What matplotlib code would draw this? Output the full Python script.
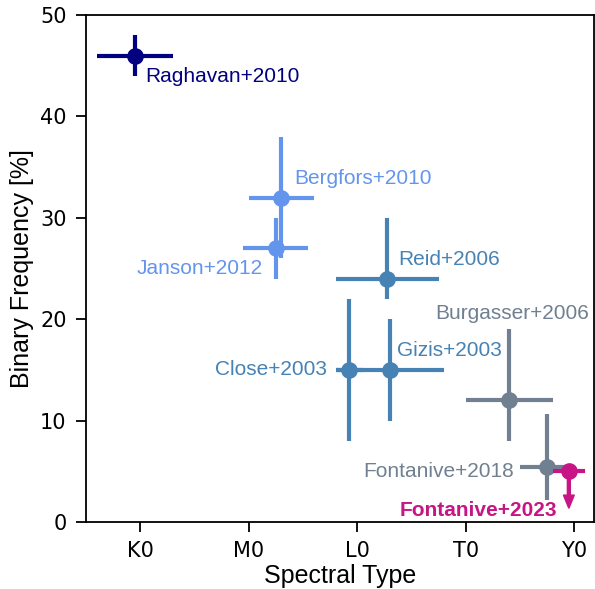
import numpy as np
import matplotlib.pyplot as plt

# spectral type scale: M0 = 0, L0 = 10, T0 = 20, Y0 = 30
tick_pos = [-10, 0, 10, 20, 30]
tick_labels = ['K0', 'M0', 'L0', 'T0', 'Y0']

names = ['Raghavan+2010', 'Bergfors+2010', 'Janson+2012', 'Reid+2006',
         'Close+2003', 'Gizis+2003', 'Burgasser+2006', 'Fontanive+2018']
spt = np.array([-10.5, 3.0, 2.5, 12.75, 9.25, 13.0, 24.0, 27.5])
spt_err = np.array([3.5, 3.0, 3.0, 4.75, 1.25, 5.0, 4.0, 2.5])
freq = np.array([46.0, 32.0, 27.0, 24.0, 15.0, 15.0, 12.0, 5.4])
freq_lo = np.array([2.0, 6.0, 3.0, 2.0, 7.0, 5.0, 4.0, 3.2])
freq_hi = np.array([2.0, 6.0, 3.0, 6.0, 7.0, 5.0, 7.0, 5.2])
colors = ['navy', 'cornflowerblue', 'cornflowerblue', 'steelblue',
          'steelblue', 'steelblue', 'slategray', 'slategray']

# label anchor (data coords) and alignment
label_x = [-9.55, 4.2, 1.3, 13.76, 7.2, 13.64, 31.4, 24.4]
label_y = [43.9, 33.9, 25.0, 25.9, 15.0, 16.95, 20.57, 4.94]
label_ha = ['left', 'left', 'right', 'left', 'right', 'left', 'right', 'right']

# this work: upper limit
new_name = 'Fontanive+2023'
new_spt = 29.5
new_spt_err = 1.5
new_freq = 5.0
new_limit_len = 3.65
new_color = 'mediumvioletred'

fig, ax = plt.subplots(figsize=(5.95, 5.89), dpi=100)
fig.subplots_adjust(left=0.1445, right=0.998, top=0.9745, bottom=0.1138)

for i in range(len(names)):
    ax.errorbar(spt[i], freq[i], xerr=spt_err[i],
                yerr=[[freq_lo[i]], [freq_hi[i]]],
                fmt='o', color=colors[i], ms=11, elinewidth=3, capsize=0)
    ax.text(label_x[i], label_y[i], names[i], color=colors[i],
            ha=label_ha[i], va='center', fontsize=15,
            family='Liberation Sans')

ax.errorbar(new_spt, new_freq, xerr=new_spt_err, fmt='o', color=new_color,
            ms=11, elinewidth=3, capsize=0, zorder=5)
ax.arrow(new_spt, new_freq, 0, -new_limit_len, width=0.27, head_width=1.0,
         head_length=1.3, length_includes_head=True, color=new_color,
         zorder=5)
ax.text(28.4, 1.15, new_name, color=new_color, ha='right', va='center',
        fontsize=15, fontweight='bold', family='Liberation Sans')

ax.set_xlim(-15, 31.8)
ax.set_ylim(0, 50)
ax.set_xticks(tick_pos)
ax.set_xticklabels(tick_labels)
ax.set_yticks([0, 10, 20, 30, 40, 50])
ax.tick_params(labelsize=15, length=7, width=1.3, pad=7)
for sp in ax.spines.values():
    sp.set_linewidth(1.3)

ax.set_xlabel('Spectral Type', fontsize=18, family='Liberation Sans',
              labelpad=2)
ax.set_ylabel('Binary Frequency [%]', fontsize=18, family='Liberation Sans',
              labelpad=4)

plt.savefig('out.png', dpi=100)
